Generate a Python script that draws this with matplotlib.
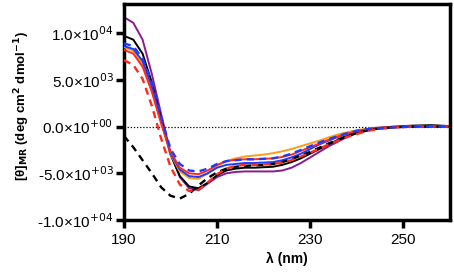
import numpy as np
import matplotlib
matplotlib.use("Agg")
import matplotlib.pyplot as plt

plt.rcParams['font.family'] = ['Liberation Sans', 'DejaVu Sans']

# wavelength grid (nm)
wl = [190, 192, 194, 196, 198, 200, 202, 204, 206, 208, 210, 212, 214, 216, 218, 220,
      222, 224, 226, 228, 230, 232, 234, 236, 238, 240, 242, 244, 248, 252, 256, 260]

# mean residue ellipticity
purple = [11700, 11100, 9300, 5600, 1300, -2800, -5400, -6600, -6800, -6100, -5400, -5000,
          -4850, -4800, -4800, -4800, -4800, -4700, -4400, -3900, -3300, -2700, -2100, -1600,
          -1100, -700, -400, -200, -50, 50, 50, 0]
black = [9700, 9300, 7800, 4700, 800, -3000, -5300, -6400, -6600, -6000, -5200, -4700,
         -4500, -4400, -4400, -4350, -4300, -4100, -3800, -3400, -2900, -2400, -1900, -1400,
         -1000, -650, -400, -200, 0, 100, 150, 50]
blue_dash = [8900, 8600, 7300, 4700, 1000, -2400, -4000, -4700, -4800, -4500, -4000, -3700,
             -3600, -3500, -3500, -3450, -3400, -3200, -2900, -2500, -2100, -1700, -1350, -1000,
             -700, -450, -300, -200, -100, 0, 0, 0]
blue = [8600, 8300, 7000, 4300, 600, -2900, -4600, -5300, -5400, -5000, -4400, -4100,
        -4000, -3900, -3900, -3850, -3800, -3600, -3300, -2900, -2400, -1900, -1500, -1100,
        -800, -500, -300, -150, -50, 0, 0, 0]
orange = [8500, 8100, 6700, 3900, 400, -3000, -4800, -5500, -5600, -5000, -4200, -3700,
          -3400, -3200, -3100, -3000, -2850, -2650, -2400, -2100, -1800, -1500, -1150, -850,
          -600, -400, -250, -150, 0, 0, 0, 0]
red = [8200, 7800, 6400, 3700, 300, -2700, -4400, -5000, -5100, -4700, -4100, -3700,
       -3550, -3500, -3500, -3450, -3400, -3250, -3000, -2600, -2200, -1800, -1400, -1050,
       -750, -500, -300, -150, -50, 0, 0, 0]
red_dash = [7100, 6600, 5100, 2200, -1300, -4300, -6200, -6900, -6800, -6000, -5100, -4500,
            -4200, -4100, -4100, -4050, -4000, -3850, -3600, -3200, -2800, -2350, -1900, -1500,
            -1100, -800, -500, -300, -100, 0, 0, 0]
black_dash = [-1000, -2200, -3600, -5000, -6500, -7400, -7700, -7200, -6300, -5500, -4900, -4500,
              -4300, -4200, -4150, -4100, -4000, -3800, -3500, -3100, -2700, -2250, -1800, -1400,
              -1000, -700, -450, -250, -80, 0, 0, 0]

yticks = [-10000, -5000, 0, 5000, 10000]
ytick_labels = ['-1.0\u00d710$^{+04}$', '-5.0\u00d710$^{+03}$', '0.0\u00d710$^{+00}$',
                '5.0\u00d710$^{03}$', '1.0\u00d710$^{04}$']
xticks = [190, 210, 230, 250]

fig = plt.figure(figsize=(4.54, 2.72), dpi=100)
ax = fig.add_axes([0.273, 0.191, 0.718, 0.794])

ax.axhline(0, color='black', lw=0.9, ls=(0, (1, 1.5)), zorder=1)

ax.plot(wl, purple, color='#8B1A92', lw=1.4, zorder=2)
ax.plot(wl, black, color='black', lw=1.4, zorder=3)
ax.plot(wl, orange, color='#FF9A1A', lw=1.4, zorder=4)
ax.plot(wl, blue, color='#1A3CFF', lw=1.4, zorder=5)
ax.plot(wl, red, color='#FF2A1A', lw=1.4, zorder=6)
ax.plot(wl, black_dash, color='black', lw=1.7, ls=(0, (3, 2.2)), zorder=7)
ax.plot(wl, red_dash, color='#FF2A1A', lw=1.7, ls=(0, (3, 2.2)), zorder=8)
ax.plot(wl, blue_dash, color='#1A3CFF', lw=1.7, ls=(0, (3, 2.2)), zorder=9)

ax.set_xlim(190, 260)
ax.set_ylim(-10000, 13100)
ax.set_xticks(xticks)
ax.set_yticks(yticks)
ax.set_yticklabels(ytick_labels)

for s in ax.spines.values():
    s.set_linewidth(2.5)
ax.tick_params(width=2.5, length=5.5, labelsize=11, pad=2)
ax.tick_params(axis='x', pad=4)

ax.set_xlabel('\u03bb (nm)', fontsize=10, fontweight='bold', labelpad=3)
fig.text(0.05, 0.61, '[\u03b8]$_{\\mathbf{MR}}$ (deg cm$^{\\mathbf{2}}$ dmol$^{\\mathbf{-1}}$)',
         rotation=90, fontsize=9.5, fontweight='bold', ha='center', va='center')

fig.savefig('out.png', dpi=100)
